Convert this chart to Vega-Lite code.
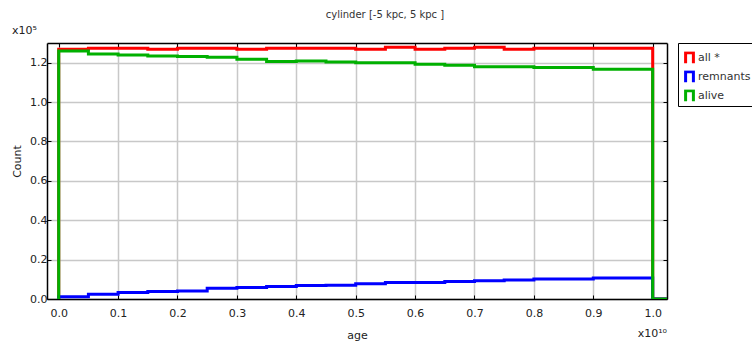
{
  "$schema": "https://vega.github.io/schema/vega-lite/v6.json",
  "width": 620,
  "height": 256,
  "autosize": {"type": "none"},
  "padding": {"left": 47, "top": 43, "right": 85, "bottom": 47},
  "background": "white",
  "title": {"text": "cylinder [-5 kpc, 5 kpc ]", "font": "DejaVu Sans", "fontSize": 10, "fontWeight": "normal", "color": "#333", "offset": 5, "dx": 28},
  "config": {
    "view": {"stroke": null},
    "font": "DejaVu Sans",
    "axis": {
      "domainColor": "black", "domainWidth": 1.5,
      "tickColor": "black", "tickSize": -4, "tickWidth": 1,
      "gridColor": "#c8c8c8", "gridWidth": 1.5,
      "labelFont": "DejaVu Sans", "labelFontSize": 11, "labelColor": "#222",
      "labelFlush": false, "labelOverlap": false,
      "titleFont": "DejaVu Sans", "titleFontSize": 11, "titleFontWeight": "normal", "titleColor": "#222"
    },
    "legend": {
      "orient": "right", "offset": 10, "strokeColor": "black", "strokeWidth": 1, "fillColor": "white",
      "padding": 3.5, "cornerRadius": 0,
      "symbolType": "M-0.6,0.8V-0.8H0.6V0.8", "symbolSize": 169, "symbolStrokeWidth": 3,
      "symbolFillColor": "transparent", "symbolOffset": 0,
      "labelFont": "DejaVu Sans", "labelFontSize": 11, "labelColor": "#333", "labelOffset": 0.5,
      "clipHeight": 13, "rowPadding": 6,
      "titleFontSize": 1, "titlePadding": 4
    }
  },
  "layer": [
    {
      "data": {"values": [
        {"s": "all *", "i": 0, "age": 0, "count": 0},
        {"s": "all *", "i": 1, "age": 0, "count": 126800},
        {"s": "all *", "i": 2, "age": 500000000, "count": 127300},
        {"s": "all *", "i": 3, "age": 1000000000, "count": 127300},
        {"s": "all *", "i": 4, "age": 1500000000, "count": 126800},
        {"s": "all *", "i": 5, "age": 2000000000, "count": 127300},
        {"s": "all *", "i": 6, "age": 2500000000, "count": 127300},
        {"s": "all *", "i": 7, "age": 3000000000, "count": 126800},
        {"s": "all *", "i": 8, "age": 3500000000, "count": 127300},
        {"s": "all *", "i": 9, "age": 4000000000, "count": 127300},
        {"s": "all *", "i": 10, "age": 4500000000, "count": 127300},
        {"s": "all *", "i": 11, "age": 5000000000, "count": 126800},
        {"s": "all *", "i": 12, "age": 5500000000, "count": 127800},
        {"s": "all *", "i": 13, "age": 6000000000, "count": 126800},
        {"s": "all *", "i": 14, "age": 6500000000, "count": 127300},
        {"s": "all *", "i": 15, "age": 7000000000, "count": 127800},
        {"s": "all *", "i": 16, "age": 7500000000, "count": 126800},
        {"s": "all *", "i": 17, "age": 8000000000, "count": 127300},
        {"s": "all *", "i": 18, "age": 8500000000, "count": 127300},
        {"s": "all *", "i": 19, "age": 9000000000, "count": 127300},
        {"s": "all *", "i": 20, "age": 9500000000, "count": 127300},
        {"s": "all *", "i": 21, "age": 10000000000, "count": 0},
        {"s": "all *", "i": 22, "age": 10500000000, "count": 0},
        {"s": "remnants", "i": 0, "age": 0, "count": 0},
        {"s": "remnants", "i": 1, "age": 0, "count": 1200},
        {"s": "remnants", "i": 2, "age": 500000000, "count": 2400},
        {"s": "remnants", "i": 3, "age": 1000000000, "count": 3300},
        {"s": "remnants", "i": 4, "age": 1500000000, "count": 3800},
        {"s": "remnants", "i": 5, "age": 2000000000, "count": 4100},
        {"s": "remnants", "i": 6, "age": 2500000000, "count": 5500},
        {"s": "remnants", "i": 7, "age": 3000000000, "count": 5800},
        {"s": "remnants", "i": 8, "age": 3500000000, "count": 6300},
        {"s": "remnants", "i": 9, "age": 4000000000, "count": 6800},
        {"s": "remnants", "i": 10, "age": 4500000000, "count": 7000},
        {"s": "remnants", "i": 11, "age": 5000000000, "count": 7700},
        {"s": "remnants", "i": 12, "age": 5500000000, "count": 8400},
        {"s": "remnants", "i": 13, "age": 6000000000, "count": 8400},
        {"s": "remnants", "i": 14, "age": 6500000000, "count": 8900},
        {"s": "remnants", "i": 15, "age": 7000000000, "count": 9300},
        {"s": "remnants", "i": 16, "age": 7500000000, "count": 9700},
        {"s": "remnants", "i": 17, "age": 8000000000, "count": 10200},
        {"s": "remnants", "i": 18, "age": 8500000000, "count": 10200},
        {"s": "remnants", "i": 19, "age": 9000000000, "count": 10700},
        {"s": "remnants", "i": 20, "age": 9500000000, "count": 10700},
        {"s": "remnants", "i": 21, "age": 10000000000, "count": 0},
        {"s": "remnants", "i": 22, "age": 10500000000, "count": 0},
        {"s": "alive", "i": 0, "age": 0, "count": 0},
        {"s": "alive", "i": 1, "age": 0, "count": 125900},
        {"s": "alive", "i": 2, "age": 500000000, "count": 124400},
        {"s": "alive", "i": 3, "age": 1000000000, "count": 123900},
        {"s": "alive", "i": 4, "age": 1500000000, "count": 123400},
        {"s": "alive", "i": 5, "age": 2000000000, "count": 123100},
        {"s": "alive", "i": 6, "age": 2500000000, "count": 122800},
        {"s": "alive", "i": 7, "age": 3000000000, "count": 121700},
        {"s": "alive", "i": 8, "age": 3500000000, "count": 120600},
        {"s": "alive", "i": 9, "age": 4000000000, "count": 120800},
        {"s": "alive", "i": 10, "age": 4500000000, "count": 120300},
        {"s": "alive", "i": 11, "age": 5000000000, "count": 120000},
        {"s": "alive", "i": 12, "age": 5500000000, "count": 120000},
        {"s": "alive", "i": 13, "age": 6000000000, "count": 119200},
        {"s": "alive", "i": 14, "age": 6500000000, "count": 118700},
        {"s": "alive", "i": 15, "age": 7000000000, "count": 118000},
        {"s": "alive", "i": 16, "age": 7500000000, "count": 118000},
        {"s": "alive", "i": 17, "age": 8000000000, "count": 117500},
        {"s": "alive", "i": 18, "age": 8500000000, "count": 117500},
        {"s": "alive", "i": 19, "age": 9000000000, "count": 116700},
        {"s": "alive", "i": 20, "age": 9500000000, "count": 116700},
        {"s": "alive", "i": 21, "age": 10000000000, "count": 0},
        {"s": "alive", "i": 22, "age": 10500000000, "count": 0}
      ]},
      "mark": {"type": "line", "interpolate": "step-after", "strokeWidth": 3, "clip": true},
      "encoding": {
        "x": {
          "field": "age", "type": "quantitative",
          "scale": {"domain": [-197000000, 10241000000], "nice": false, "zero": false},
          "axis": {
            "orient": "bottom", "title": "age",
            "values": [0, 1000000000, 2000000000, 3000000000, 4000000000, 5000000000, 6000000000, 7000000000, 8000000000, 9000000000, 10000000000],
            "labelExpr": "format(datum.value / 1e10, '.1f')",
            "labelPadding": 12, "titleY": 36, "titleBaseline": "middle"
          }
        },
        "y": {
          "field": "count", "type": "quantitative",
          "scale": {"domain": [0, 130000], "nice": false, "zero": false},
          "axis": {
            "orient": "left", "title": "Count",
            "values": [0, 20000, 40000, 60000, 80000, 100000, 120000],
            "labelExpr": "format(datum.value / 1e5, '.1f')",
            "labelPadding": 4, "titleX": -30, "titleY": 118, "titleBaseline": "middle", "titleAngle": -90, "titleAlign": "center"
          }
        },
        "color": {
          "field": "s", "type": "nominal",
          "scale": {"domain": ["all *", "remnants", "alive"], "range": ["#ff0000", "#0000ff", "#00b000"]},
          "legend": {"title": " "}
        },
        "order": {"field": "i", "type": "quantitative"}
      }
    },
    {
      "data": {"values": [{"t": "x10⁵"}]},
      "mark": {"type": "text", "align": "right", "baseline": "middle", "dx": -10, "dy": -12, "fontSize": 11, "font": "DejaVu Sans", "color": "#222"},
      "encoding": {
        "x": {"datum": -197000000, "type": "quantitative",
          "axis": {"orient": "top", "title": null, "labels": false, "grid": false,
            "values": [0, 1000000000, 2000000000, 3000000000, 4000000000, 5000000000, 6000000000, 7000000000, 8000000000, 9000000000, 10000000000]}},
        "y": {"datum": 130000, "type": "quantitative",
          "axis": {"orient": "right", "title": null, "labels": false, "grid": false,
            "values": [0, 20000, 40000, 60000, 80000, 100000, 120000]}},
        "text": {"field": "t"}
      }
    },
    {
      "data": {"values": [{"t": "x10¹⁰"}]},
      "mark": {"type": "text", "align": "right", "baseline": "middle", "dy": 35, "fontSize": 11, "font": "DejaVu Sans", "color": "#222"},
      "encoding": {
        "x": {"datum": 10241000000, "type": "quantitative", "axis": null},
        "y": {"datum": 0, "type": "quantitative", "axis": null},
        "text": {"field": "t"}
      }
    }
  ],
  "resolve": {"axis": {"x": "independent", "y": "independent"}}
}
